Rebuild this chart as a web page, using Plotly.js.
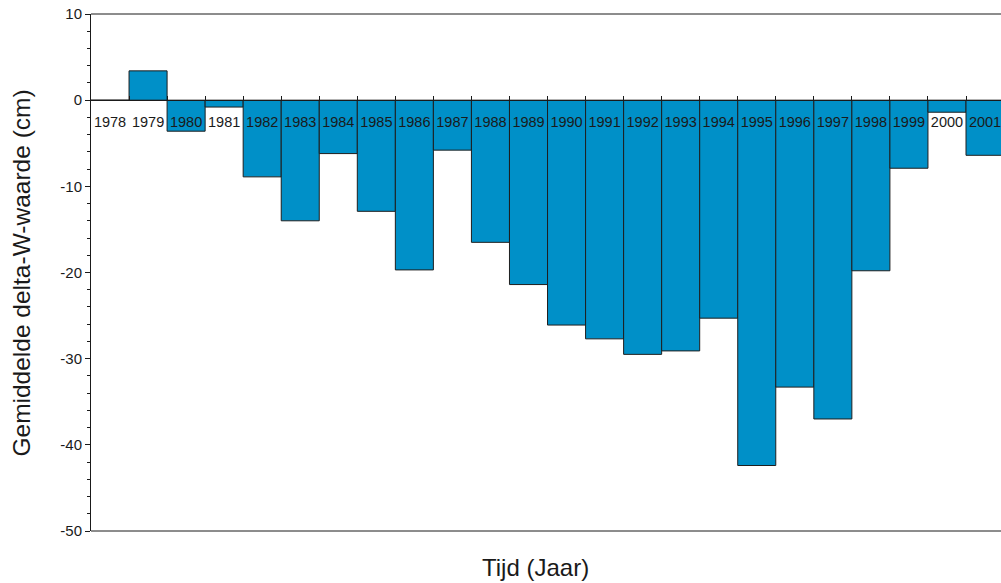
<!DOCTYPE html>
<html>
<head>
<meta charset="utf-8">
<script src="https://cdn.plot.ly/plotly-3.0.1.min.js"></script>
<style>html,body{margin:0;padding:0;background:#fff;}#chart{width:1001px;height:583px;}</style>
</head>
<body>
<div id="chart"></div>
<script>
var years = ["1978","1979","1980","1981","1982","1983","1984","1985","1986","1987","1988","1989","1990","1991","1992","1993","1994","1995","1996","1997","1998","1999","2000","2001"];
var values = [0, 3.4, -3.6, -0.8, -8.9, -14.0, -6.2, -12.9, -19.7, -5.8, -16.5, -21.4, -26.1, -27.7, -29.5, -29.1, -25.3, -42.4, -33.3, -37.0, -19.8, -7.9, -1.4, -6.4];
var yTickVals = [10, 0, -10, -20, -30, -40, -50];
var yTitle = "Gemiddelde delta-W-waarde (cm)";
var xTitle = "Tijd (Jaar)";

var FONT = "Arial, 'Liberation Sans', sans-serif";
var yMin = -50, yMax = 10;

var trace = {
  type: "bar",
  x: years,
  y: values,
  marker: {color: "#0090c8", line: {color: "#1e1e1e", width: 1}},
  hoverinfo: "x+y"
};

var layout = {
  width: 1001,
  height: 583,
  margin: {l: 91, r: 0, t: 14, b: 52, pad: 0},
  paper_bgcolor: "#ffffff",
  plot_bgcolor: "#ffffff",
  showlegend: false,
  bargap: 0,
  font: {family: FONT, color: "#1a1a1a", size: 14},
  xaxis: {
    type: "category",
    range: [-0.5, 23.42],
    anchor: "free",
    position: (0 - yMin) / (yMax - yMin),
    showline: true,
    linecolor: "#1a1a1a",
    linewidth: 1,
    ticks: "inside",
    ticklen: 4,
    tickcolor: "#1a1a1a",
    tickson: "boundaries",
    tickangle: 0,
    showgrid: false,
    zeroline: false,
    tickfont: {family: FONT, size: 14.5, color: "#1a1a1a"},
    ticklabelstandoff: 8,
    fixedrange: true
  },
  yaxis: {
    range: [yMin, yMax],
    tickvals: yTickVals,
    ticktext: yTickVals.map(String),
    showline: true,
    linecolor: "#1a1a1a",
    linewidth: 1,
    ticks: "outside",
    ticklen: 5,
    tickcolor: "#1a1a1a",
    minor: {dtick: 2, ticks: "outside", ticklen: 3, tickcolor: "#1a1a1a", showgrid: false},
    showgrid: false,
    zeroline: false,
    tickfont: {family: FONT, size: 15, color: "#1a1a1a"},
    fixedrange: true
  },
  shapes: [
    {type: "line", xref: "paper", yref: "paper", x0: 0, x1: 1, y0: 1, y1: 1, line: {color: "#1a1a1a", width: 1}},
    {type: "line", xref: "paper", yref: "paper", x0: 0, x1: 1, y0: 0, y1: 0, line: {color: "#1a1a1a", width: 1}}
  ],
  annotations: [
    {text: yTitle, xref: "paper", yref: "paper", x: -0.0758, y: 0.498, xanchor: "center", yanchor: "middle", textangle: -90, showarrow: false, font: {family: FONT, size: 24.5, color: "#1a1a1a"}},
    {text: xTitle, xref: "paper", yref: "paper", x: 0.489, y: -0.071, xanchor: "center", yanchor: "middle", showarrow: false, font: {family: FONT, size: 24, color: "#1a1a1a"}}
  ]
};

Plotly.newPlot("chart", [trace], layout, {displayModeBar: false, staticPlot: true});
</script>
</body>
</html>
